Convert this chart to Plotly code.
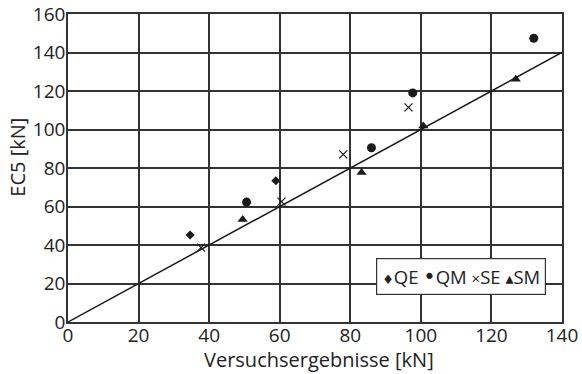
import plotly.graph_objects as go

qe_x = [34.6, 58.9]
qe_y = [45.2, 73.4]
qm_x = [50.6, 86.0, 97.7, 132.0]
qm_y = [62.3, 90.5, 119.0, 147.4]
se_x = [37.7, 60.5, 78.0, 96.5]
se_y = [38.6, 62.5, 87.1, 111.5]
sm_x = [49.5, 83.2, 100.7, 126.9]
sm_y = [53.3, 77.6, 101.8, 126.1]
line_x = [0, 140]
line_y = [0, 140]

FONT = "Open Sans"
INK = "#1a1a1a"
fig = go.Figure()
fig.add_trace(go.Scatter(x=line_x, y=line_y, mode="lines",
                         line=dict(color=INK, width=1.5), showlegend=False))
fig.add_trace(go.Scatter(x=qe_x, y=qe_y, mode="markers", name="QE",
                         marker=dict(symbol="diamond", size=7, color=INK)))
fig.add_trace(go.Scatter(x=qm_x, y=qm_y, mode="markers", name="QM",
                         marker=dict(symbol="circle", size=9, color=INK)))
fig.add_trace(go.Scatter(x=se_x, y=se_y, mode="markers", name="SE",
                         marker=dict(symbol="x-thin-open", size=8, color=INK,
                                     line=dict(color=INK, width=1.2))))
fig.add_trace(go.Scatter(x=sm_x, y=sm_y, mode="markers", name="SM",
                         marker=dict(symbol="triangle-up", size=9, color=INK)))

legend_text = ("<span style='font-family:DejaVu Sans;font-size:13px'>♦</span>QE "
               "<span style='font-family:DejaVu Sans;font-size:21px'>•</span>QM "
               "<span style='font-size:15px'>×</span>SE "
               "<span style='font-family:DejaVu Sans;font-size:16px'>▴</span>SM")
fig.add_annotation(xref="x", yref="y", x=111.4, y=23.6, text=legend_text,
                   showarrow=False, bgcolor="white", bordercolor="#333",
                   borderwidth=1.2, borderpad=5,
                   font=dict(family=FONT, size=18.5, color="#222"))
fig.add_annotation(xref="paper", yref="paper", x=-0.103, y=0.534,
                   text="EC5 [kN]", textangle=-90, showarrow=False,
                   xanchor="center", yanchor="middle",
                   font=dict(family=FONT, size=20, color="#222"))
fig.add_annotation(xref="paper", yref="paper", x=0.509, y=-0.122,
                   text="Versuchsergebnisse [kN]", showarrow=False,
                   xanchor="center", yanchor="middle",
                   font=dict(family=FONT, size=20, color="#222"))

axis_common = dict(showgrid=True, gridcolor="#333", gridwidth=1.5,
                   showline=True, linecolor="#333", linewidth=1.5, mirror=True,
                   zeroline=False, ticks="", dtick=20, automargin=False,
                   tickfont=dict(family=FONT, size=19, color="#222"))
fig.update_xaxes(range=[0, 140], ticklabelstandoff=-5, **axis_common)
fig.update_yaxes(range=[0, 160], ticklabelstandoff=-3, **axis_common)
fig.update_layout(width=582, height=374, showlegend=False,
                  margin=dict(l=68, r=20, t=14, b=52),
                  plot_bgcolor="white", paper_bgcolor="white")
fig.write_html("out.html")
